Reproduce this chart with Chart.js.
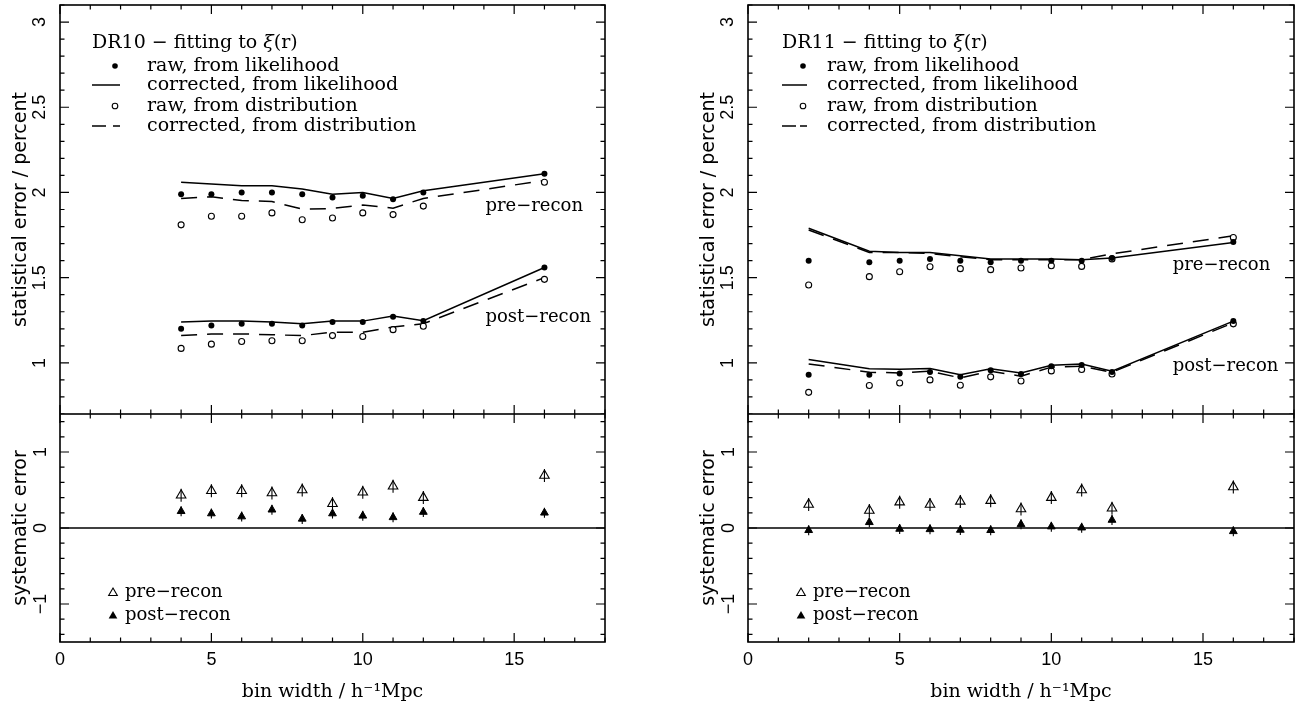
<!DOCTYPE html>
<html>
<head>
<meta charset="utf-8">
<script src="https://cdn.jsdelivr.net/npm/chart.js@4.4.1/dist/chart.umd.min.js"></script>
<style>
html,body{margin:0;padding:0;background:#fff;}
#wrap{position:relative;width:1303px;height:711px;overflow:hidden;background:#fff;}
canvas{position:absolute;}
</style>
</head>
<body>
<div id="wrap">
<canvas id="tl" width="620" height="414" style="left:0px;top:0px"></canvas>
<canvas id="bl" width="620" height="297" style="left:0px;top:414px"></canvas>
<canvas id="tr" width="615" height="414" style="left:688px;top:0px"></canvas>
<canvas id="br" width="615" height="297" style="left:688px;top:414px"></canvas>
</div>
<script>
// ---------------- data ----------------
const binsDR10 = [4, 5, 6, 7, 8, 9, 10, 11, 12, 16];
const binsDR11 = [2, 4, 5, 6, 7, 8, 9, 10, 11, 12, 16];

// DR10 statistical error (percent)
const dr10PreRawLike   = [1.99, 1.99, 2.00, 2.00, 1.99, 1.97, 1.98, 1.96, 2.00, 2.11];
const dr10PreCorrLike  = [2.06, 2.05, 2.04, 2.04, 2.02, 1.99, 2.00, 1.965, 2.01, 2.11];
const dr10PreRawDist   = [1.81, 1.86, 1.86, 1.88, 1.84, 1.85, 1.88, 1.87, 1.92, 2.06];
const dr10PreCorrDist  = [1.965, 1.975, 1.953, 1.947, 1.902, 1.906, 1.926, 1.908, 1.965, 2.07];
const dr10PostRawLike  = [1.20, 1.22, 1.23, 1.23, 1.22, 1.24, 1.24, 1.27, 1.245, 1.56];
const dr10PostCorrLike = [1.24, 1.245, 1.245, 1.24, 1.23, 1.245, 1.245, 1.275, 1.247, 1.56];
const dr10PostRawDist  = [1.085, 1.11, 1.125, 1.13, 1.13, 1.16, 1.155, 1.195, 1.215, 1.49];
const dr10PostCorrDist = [1.16, 1.17, 1.17, 1.165, 1.16, 1.18, 1.18, 1.21, 1.23, 1.50];

// DR11 statistical error (percent)
const dr11PreRawLike   = [1.60, 1.59, 1.60, 1.61, 1.60, 1.59, 1.60, 1.60, 1.60, 1.615, 1.71];
const dr11PreCorrLike  = [1.79, 1.655, 1.648, 1.648, 1.629, 1.609, 1.609, 1.609, 1.605, 1.615, 1.707];
const dr11PreRawDist   = [1.457, 1.506, 1.535, 1.564, 1.553, 1.547, 1.557, 1.57, 1.566, 1.61, 1.736];
const dr11PreCorrDist  = [1.78, 1.648, 1.648, 1.642, 1.623, 1.605, 1.605, 1.605, 1.605, 1.64, 1.746];
const dr11PostRawLike  = [0.931, 0.931, 0.937, 0.947, 0.918, 0.957, 0.935, 0.98, 0.988, 0.947, 1.245];
const dr11PostCorrLike = [1.02, 0.965, 0.963, 0.967, 0.931, 0.965, 0.941, 0.986, 0.994, 0.951, 1.245];
const dr11PostRawDist  = [0.827, 0.867, 0.882, 0.90, 0.869, 0.918, 0.894, 0.953, 0.961, 0.935, 1.229];
const dr11PostCorrDist = [0.994, 0.945, 0.941, 0.951, 0.912, 0.951, 0.922, 0.975, 0.98, 0.945, 1.235];

// systematic error
const dr10SysPre  = [0.43, 0.49, 0.49, 0.46, 0.50, 0.32, 0.47, 0.55, 0.40, 0.69];
const dr10SysPost = [0.22, 0.19, 0.15, 0.24, 0.12, 0.19, 0.16, 0.14, 0.21, 0.20];
const dr11SysPre  = [0.31, 0.23, 0.34, 0.31, 0.35, 0.36, 0.25, 0.40, 0.50, 0.26, 0.54];
const dr11SysPost = [-0.03, 0.075, -0.013, -0.018, -0.026, -0.03, 0.048, 0.018, 0.004, 0.105, -0.044];

// tick labels
const xTickLabels = [0, 5, 10, 15];
const statTickLabels = [1, 1.5, 2, 2.5, 3];
const sysTickLabels = [-1, 0, 1];

// texts
const legendRowTexts = ['raw, from likelihood', 'corrected, from likelihood', 'raw, from distribution', 'corrected, from distribution'];
const xTitle = 'bin width / h\u207B\u00B9Mpc';
const statTitle = 'statistical error / percent';
const sysTitle = 'systematic error';
const preLabel = 'pre\u2212recon';
const postLabel = 'post\u2212recon';

// ---------------- helpers ----------------
const pts = (xs, ys) => xs.map((x, i) => ({x: x, y: ys[i]}));
const fmt = v => (v < 0 ? '\u2212' + Math.abs(v) : String(v));
const SERIF = '"DejaVu Serif", serif';
const SANS = '"DejaVu Sans", sans-serif';
const TICKFONT = '"Liberation Sans", Arial, sans-serif';

Chart.defaults.color = '#000';

const zeroPad = sc => { sc.paddingTop = 0; sc.paddingBottom = 0; sc.paddingLeft = 0; sc.paddingRight = 0; };

const decor = {
  id: 'decor',
  beforeDatasetsDraw(chart, args, o) {
    if (!o.zeroLine) return;
    const {ctx, chartArea: a, scales: {y}} = chart;
    const py = y.getPixelForValue(0);
    ctx.save();
    ctx.strokeStyle = '#000'; ctx.lineWidth = 1.5;
    ctx.beginPath(); ctx.moveTo(a.left, py); ctx.lineTo(a.right, py); ctx.stroke();
    ctx.restore();
  },
  afterDatasetsDraw(chart, args, o) {
    const {ctx, chartArea: a, scales: {x, y}} = chart;
    ctx.save();
    ctx.strokeStyle = '#000';
    ctx.lineWidth = 1.6;
    ctx.strokeRect(a.left, a.top, a.right - a.left, a.bottom - a.top);
    ctx.lineWidth = 1.2;
    ctx.beginPath();
    for (let v = 0; v <= 18; v++) {
      const px = x.getPixelForValue(v);
      const len = v % 5 === 0 ? 9 : 4.5;
      ctx.moveTo(px, a.bottom); ctx.lineTo(px, a.bottom - len);
      ctx.moveTo(px, a.top); ctx.lineTo(px, a.top + len);
    }
    const step = o.minorStep, major = o.majorStep;
    const n0 = Math.ceil(y.min / step - 1e-6), n1 = Math.floor(y.max / step + 1e-6);
    for (let k = n0; k <= n1; k++) {
      const v = k * step;
      const py = y.getPixelForValue(v);
      const isMaj = Math.abs(v / major - Math.round(v / major)) < 1e-6;
      const len = isMaj ? 9 : 4.5;
      ctx.moveTo(a.left, py); ctx.lineTo(a.left + len, py);
      ctx.moveTo(a.right, py); ctx.lineTo(a.right - len, py);
    }
    ctx.stroke();

    ctx.fillStyle = '#000';
    ctx.textBaseline = 'middle';
    ctx.textAlign = 'left';
    if (o.kind === 'stat') {
      const L = o.legend;
      ctx.font = '19px ' + SERIF;
      const t1 = L.title + ' \u2212 fitting to ';
      let tx = a.left + L.titleDx;
      ctx.fillText(t1, tx, L.titleY);
      tx += ctx.measureText(t1).width;
      ctx.font = 'italic 19px ' + SERIF;
      ctx.fillText('\u03BE', tx, L.titleY);
      tx += ctx.measureText('\u03BE').width;
      ctx.font = '19px ' + SERIF;
      ctx.fillText('(r)', tx, L.titleY);
      const sx = a.left + L.symDx;
      const lx0 = a.left + L.lineDx0, lx1 = a.left + L.lineDx1;
      const txx = a.left + L.textDx;
      ctx.beginPath(); ctx.arc(sx, L.rows[0], 2.8, 0, Math.PI * 2); ctx.fill();
      ctx.lineWidth = 1.5;
      ctx.beginPath(); ctx.moveTo(lx0, L.rows[1]); ctx.lineTo(lx1, L.rows[1]); ctx.stroke();
      ctx.lineWidth = 1.1;
      ctx.beginPath(); ctx.arc(sx, L.rows[2], 2.8, 0, Math.PI * 2); ctx.stroke();
      ctx.lineWidth = 1.5;
      ctx.beginPath();
      ctx.moveTo(lx0, L.rows[3]); ctx.lineTo(lx0 + 14, L.rows[3]);
      ctx.moveTo(lx1 - 7, L.rows[3]); ctx.lineTo(lx1, L.rows[3]);
      ctx.stroke();
      for (let i = 0; i < 4; i++) ctx.fillText(legendRowTexts[i], txx, L.rows[i]);
      ctx.font = '18px ' + SERIF;
      o.curveLabels.forEach(c => {
        ctx.fillText(c.text, x.getPixelForValue(c.x), y.getPixelForValue(c.y));
      });
    } else {
      const L = o.legend;
      const sx = a.left + L.symDx, txx = a.left + L.textDx;
      const tri = (cx, cy, r) => {
        ctx.beginPath();
        ctx.moveTo(cx, cy - r);
        ctx.lineTo(cx + r * 0.866, cy + r / 2);
        ctx.lineTo(cx - r * 0.866, cy + r / 2);
        ctx.closePath();
      };
      ctx.lineWidth = 1.1;
      tri(sx, L.rows[0] + 1, 5); ctx.stroke();
      tri(sx, L.rows[1] + 1, 5); ctx.fill();
      ctx.font = '18px ' + SERIF;
      ctx.fillText(preLabel, txx, L.rows[0]);
      ctx.fillText(postLabel, txx, L.rows[1]);
    }
    ctx.restore();
  }
};

function yAxisCommon(min, max, labels, title, pad) {
  return {
    type: 'linear', position: 'left', min: min, max: max,
    afterBuildTicks: sc => { sc.ticks = labels.map(v => ({value: v})); },
    afterFit: sc => { sc.width = 60; zeroPad(sc); },
    grid: {display: false, drawTicks: false},
    border: {display: false},
    ticks: {
      minRotation: 90, maxRotation: 90, crossAlign: 'center', padding: pad,
      color: '#000', font: {family: TICKFONT, size: 18},
      callback: v => fmt(v)
    },
    title: {display: true, text: title, color: '#000', font: {family: SANS, size: 19}, padding: {top: 10, bottom: 0}}
  };
}

function statChart(id, bins, s, legend, curveLabels) {
  return new Chart(document.getElementById(id), {
    type: 'scatter',
    data: {datasets: [
      {data: pts(bins, s.preRawLike), pointRadius: 3, pointBackgroundColor: '#000', pointBorderColor: '#000', pointBorderWidth: 0, showLine: false, order: 0},
      {data: pts(bins, s.preRawDist), pointRadius: 3, pointBackgroundColor: '#fff', pointBorderColor: '#000', pointBorderWidth: 1.1, showLine: false, order: 0},
      {data: pts(bins, s.postRawLike), pointRadius: 3, pointBackgroundColor: '#000', pointBorderColor: '#000', pointBorderWidth: 0, showLine: false, order: 0},
      {data: pts(bins, s.postRawDist), pointRadius: 3, pointBackgroundColor: '#fff', pointBorderColor: '#000', pointBorderWidth: 1.1, showLine: false, order: 0},
      {data: pts(bins, s.preCorrLike), showLine: true, pointRadius: 0, borderColor: '#000', borderWidth: 1.5, order: 1},
      {data: pts(bins, s.preCorrDist), showLine: true, pointRadius: 0, borderColor: '#000', borderWidth: 1.5, borderDash: [16, 10], order: 1},
      {data: pts(bins, s.postCorrLike), showLine: true, pointRadius: 0, borderColor: '#000', borderWidth: 1.5, order: 1},
      {data: pts(bins, s.postCorrDist), showLine: true, pointRadius: 0, borderColor: '#000', borderWidth: 1.5, borderDash: [16, 10], order: 1}
    ]},
    options: {
      responsive: false, animation: false, devicePixelRatio: 1,
      layout: {autoPadding: false, padding: {top: 5, right: id === 'tl' ? 15 : 9, left: 0, bottom: 0}},
      plugins: {legend: {display: false}, tooltip: {enabled: false},
        decor: {kind: 'stat', minorStep: 0.1, majorStep: 0.5, legend: legend, curveLabels: curveLabels}},
      scales: {
        x: {type: 'linear', min: 0, max: 18, display: false, afterFit: zeroPad},
        y: yAxisCommon(0.7, 3.1, statTickLabels, statTitle, 7)
      }
    },
    plugins: [decor]
  });
}

function sysChart(id, bins, pre, post, legend) {
  return new Chart(document.getElementById(id), {
    type: 'scatter',
    data: {datasets: [
      {data: pts(bins, pre), pointStyle: 'triangle', pointRadius: 5.5, pointBackgroundColor: 'rgba(0,0,0,0)', pointBorderColor: '#000', pointBorderWidth: 1.1, showLine: false},
      {data: pts(bins, pre), pointStyle: 'line', rotation: 90, pointRadius: 6.5, pointBorderColor: '#000', pointBorderWidth: 1.1, showLine: false},
      {data: pts(bins, post), pointStyle: 'triangle', pointRadius: 4.5, pointBackgroundColor: '#000', pointBorderColor: '#000', pointBorderWidth: 1, showLine: false},
      {data: pts(bins, post), pointStyle: 'line', rotation: 90, pointRadius: 5, pointBorderColor: '#000', pointBorderWidth: 1.1, showLine: false}
    ]},
    options: {
      responsive: false, animation: false, devicePixelRatio: 1,
      layout: {autoPadding: false, padding: {top: 0, right: id === 'bl' ? 15 : 9, left: 0, bottom: 0}},
      plugins: {legend: {display: false}, tooltip: {enabled: false},
        decor: {kind: 'sys', minorStep: 0.2, majorStep: 1, zeroLine: true, legend: legend}},
      scales: {
        x: {
          type: 'linear', min: 0, max: 18, position: 'bottom',
          afterBuildTicks: sc => { sc.ticks = xTickLabels.map(v => ({value: v})); },
          afterFit: sc => { sc.height = 69; zeroPad(sc); },
          grid: {display: false, drawTicks: false}, border: {display: false},
          ticks: {padding: 7, maxRotation: 0, autoSkip: false, color: '#000', font: {family: TICKFONT, size: 18}, callback: v => fmt(v)},
          title: {display: true, text: xTitle, color: '#000', font: {family: SERIF, size: 19}, padding: {top: 0, bottom: 8}}
        },
        y: yAxisCommon(-1.5, 1.5, sysTickLabels, sysTitle, 9)
      }
    },
    plugins: [decor]
  });
}

statChart('tl', binsDR10, {
  preRawLike: dr10PreRawLike, preCorrLike: dr10PreCorrLike, preRawDist: dr10PreRawDist, preCorrDist: dr10PreCorrDist,
  postRawLike: dr10PostRawLike, postCorrLike: dr10PostCorrLike, postRawDist: dr10PostRawDist, postCorrDist: dr10PostCorrDist
}, {title: 'DR10', titleDx: 32, titleY: 43, symDx: 55, lineDx0: 32, lineDx1: 60, textDx: 87, rows: [66, 85, 106, 126]},
[{text: preLabel, x: 14.05, y: 1.92}, {text: postLabel, x: 14.05, y: 1.27}]);

statChart('tr', binsDR11, {
  preRawLike: dr11PreRawLike, preCorrLike: dr11PreCorrLike, preRawDist: dr11PreRawDist, preCorrDist: dr11PreCorrDist,
  postRawLike: dr11PostRawLike, postCorrLike: dr11PostCorrLike, postRawDist: dr11PostRawDist, postCorrDist: dr11PostCorrDist
}, {title: 'DR11', titleDx: 34, titleY: 43, symDx: 55, lineDx0: 34, lineDx1: 59, textDx: 79, rows: [66, 85, 106, 126]},
[{text: preLabel, x: 14.0, y: 1.575}, {text: postLabel, x: 14.0, y: 0.98}]);

sysChart('bl', binsDR10, dr10SysPre, dr10SysPost, {symDx: 53, textDx: 65, rows: [178, 201]});
sysChart('br', binsDR11, dr11SysPre, dr11SysPost, {symDx: 53, textDx: 65, rows: [178, 201]});
</script>
</body>
</html>
